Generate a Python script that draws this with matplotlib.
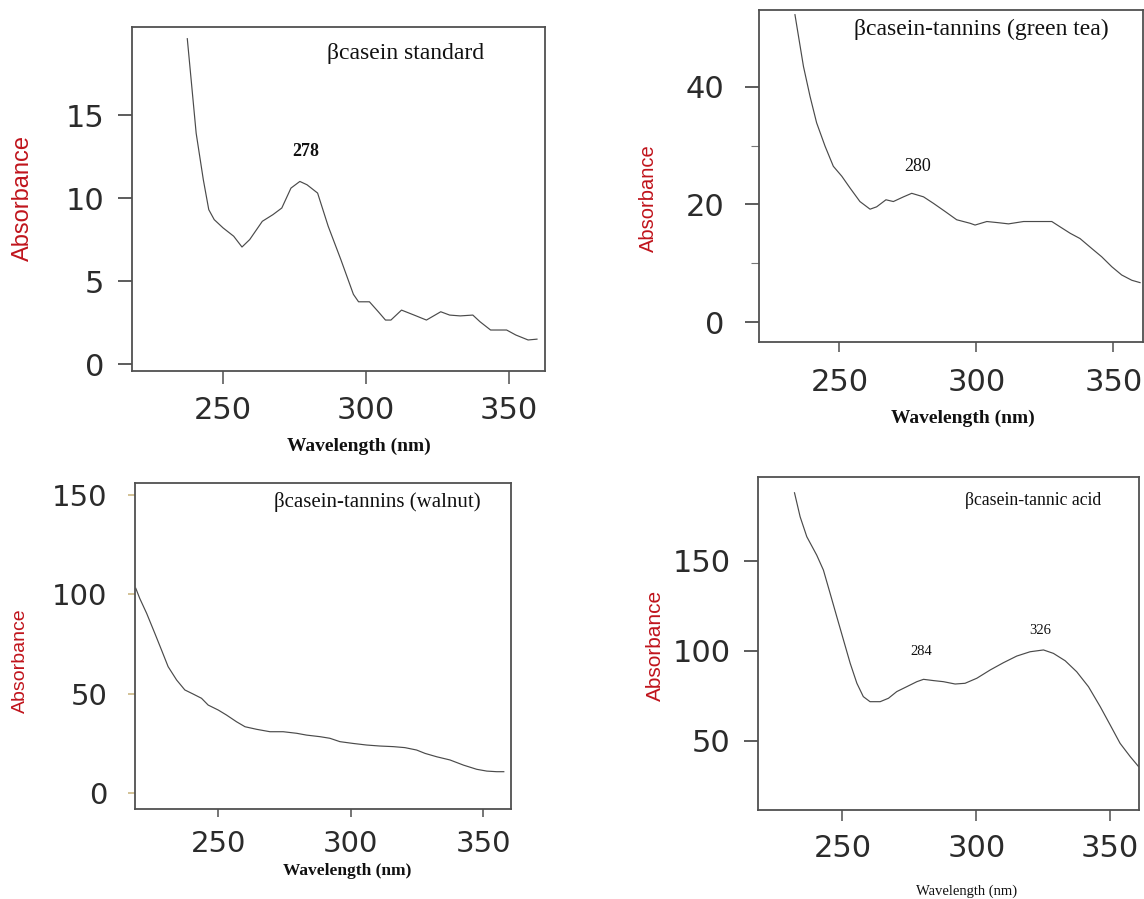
import matplotlib
matplotlib.use('Agg')
import matplotlib.pyplot as plt

wl_standard = [237.7, 240.8, 243.3, 245.2, 247.1, 250.2, 253.9, 256.8, 259.5,
               263.9, 267.6, 270.7, 273.9, 277.0, 279.5, 283.2, 286.9, 291.3,
               295.7, 297.5, 301.3, 304.4, 306.9, 308.8, 312.5, 316.9, 321.2,
               326.2, 329.3, 333.0, 337.4, 339.9, 343.6, 349.2, 352.4, 356.7,
               359.8]
abs_standard = [19.6, 13.9, 11.1, 9.3, 8.7, 8.2, 7.7, 7.05, 7.5,
                8.6, 9.0, 9.4, 10.6, 11.0, 10.8, 10.3, 8.3, 6.3,
                4.2, 3.75, 3.75, 3.15, 2.65, 2.65, 3.25, 2.95, 2.65,
                3.15, 2.95, 2.9, 2.95, 2.55, 2.05, 2.05, 1.75, 1.45,
                1.5]

wl_greentea = [233.8, 236.9, 239.3, 241.7, 244.8, 247.8, 250.9, 253.9, 257.5,
               261.2, 263.6, 267.0, 269.7, 273.4, 276.4, 280.7, 284.3, 288.6,
               292.8, 297.7, 299.5, 303.8, 308.0, 311.7, 317.2, 323.2, 327.5,
               330.5, 334.2, 337.8, 342.1, 345.7, 349.4, 353.0, 356.7, 359.7]
abs_greentea = [52.3, 43.5, 38.4, 33.9, 29.9, 26.5, 24.8, 22.8, 20.5,
                19.2, 19.6, 20.8, 20.5, 21.3, 21.9, 21.3, 20.2, 18.8,
                17.4, 16.8, 16.5, 17.1, 16.9, 16.7, 17.1, 17.1, 17.1,
                16.2, 15.1, 14.2, 12.5, 11.1, 9.4, 8.0, 7.1, 6.7]

wl_walnut = [218.9, 220.4, 223.0, 226.1, 228.6, 231.1, 234.3, 237.4, 240.6,
             243.7, 246.2, 250.0, 253.1, 256.9, 260.1, 264.5, 269.5, 274.5,
             279.6, 283.3, 288.4, 292.1, 295.9, 300.9, 306.0, 311.0, 316.0,
             320.4, 324.8, 328.0, 332.4, 337.4, 342.5, 347.5, 351.3, 355.0,
             357.7]
abs_walnut = [103.1, 98.0, 90.5, 80.4, 72.1, 63.7, 57.0, 52.0, 49.9,
              47.8, 44.4, 41.9, 39.4, 36.0, 33.5, 32.2, 31.0, 31.0,
              30.2, 29.3, 28.5, 27.7, 26.0, 25.1, 24.3, 23.8, 23.5,
              23.0, 21.8, 20.1, 18.4, 16.8, 14.2, 12.1, 11.2, 10.9,
              10.9]

wl_tannic = [232.1, 234.2, 236.7, 240.4, 242.9, 245.4, 247.9, 250.4, 252.9,
             255.4, 257.8, 260.3, 264.1, 267.2, 270.3, 274.0, 277.8, 280.3,
             284.0, 287.7, 292.1, 295.8, 300.2, 305.2, 310.1, 315.1, 320.1,
             325.1, 328.8, 333.2, 337.5, 341.9, 346.3, 350.0, 353.7, 357.5,
             360.6]
abs_tannic = [187.7, 174.4, 163.3, 153.1, 144.8, 131.9, 118.9, 106.0, 93.1,
              82.0, 74.6, 71.8, 71.8, 73.7, 77.4, 80.1, 82.9, 84.2,
              83.5, 82.9, 81.6, 82.0, 84.8, 89.4, 93.4, 97.1, 99.5,
              100.5, 98.6, 94.5, 88.4, 80.1, 69.0, 58.9, 48.7, 41.3,
              35.8]

# ── Estilo ───────────────────────────────────────────────────────────────────
RED = '#c0141c'
INK = '#2b2b2b'
LINE = '#4a4a4a'
plt.rcParams.update({'font.family': 'DejaVu Sans', 'axes.linewidth': 1.3,
                     'axes.edgecolor': '#505050'})

fig = plt.figure(figsize=(11.44, 8.99), dpi=100)

panels = [
    # posición, límites, ticks, datos y textos de cada espectro
    dict(pos=[0.1154, 0.5873, 0.3610, 0.3826], xlim=(218.4, 362.6),
         ylim=(-0.42, 20.3), yticks=[0, 5, 10, 15], minor=[],
         x=wl_standard, y=abs_standard, title='βcasein standard',
         title_xy=(0.662, 0.924), title_fs=17,
         peaks=[('278', 279.2, 12.8)], peak_fs=13, peak_bold=True,
         xlab_xy=(0.55, -0.22), xlab_fs=14, xlab_bold=True,
         ylab_xy=(-0.264, 0.504), ylab_fs=17,
         ytick_len=10, ytick_pad=10, xtick_len=9, xtick_pad=9, tick_fs=22,
         tick_color='#303030'),
    dict(pos=[0.6635, 0.6196, 0.3357, 0.3693], xlim=(220.7, 360.8),
         ylim=(-3.4, 53.1), yticks=[0, 20, 40], minor=[10, 30],
         x=wl_greentea, y=abs_greentea, title='βcasein-tannins (green tea)',
         title_xy=(0.578, 0.94), title_fs=17,
         peaks=[('280', 278.4, 26.4)], peak_fs=13, peak_bold=False,
         xlab_xy=(0.531, -0.229), xlab_fs=14, xlab_bold=True,
         ylab_xy=(-0.289, 0.434), ylab_fs=14.5,
         ytick_len=10, ytick_pad=15, xtick_len=7, xtick_pad=12, tick_fs=22,
         tick_color='#303030'),
    dict(pos=[0.1180, 0.0998, 0.3284, 0.3626], xlim=(218.6, 360.3),
         ylim=(-8.0, 155.9), yticks=[0, 50, 100, 150], minor=[],
         x=wl_walnut, y=abs_walnut, title='βcasein-tannins (walnut)',
         title_xy=(0.644, 0.943), title_fs=15,
         peaks=[], peak_fs=12, peak_bold=False,
         xlab_xy=(0.564, -0.19), xlab_fs=12.5, xlab_bold=True,
         ylab_xy=(-0.306, 0.455), ylab_fs=14,
         ytick_len=5, ytick_pad=15, xtick_len=6, xtick_pad=9, tick_fs=21,
         tick_color='#c8b27a'),
    dict(pos=[0.6629, 0.0990, 0.3328, 0.3701], xlim=(218.6, 360.8),
         ylim=(11.7, 196.3), yticks=[50, 100, 150], minor=[],
         x=wl_tannic, y=abs_tannic, title='βcasein-tannic acid',
         title_xy=(0.722, 0.930), title_fs=12.8,
         peaks=[('284', 279.4, 99.5), ('326', 323.9, 111.2)], peak_fs=10.5,
         peak_bold=False,
         xlab_xy=(0.547, -0.243), xlab_fs=10.5, xlab_bold=False,
         ylab_xy=(-0.269, 0.496), ylab_fs=15,
         ytick_len=10, ytick_pad=10, xtick_len=8, xtick_pad=9, tick_fs=22,
         tick_color='#303030'),
]

for p in panels:
    ax = fig.add_axes(p['pos'])
    ax.plot(p['x'], p['y'], color=LINE, linewidth=0.85)
    ax.set_xlim(*p['xlim'])
    ax.set_ylim(*p['ylim'])
    ax.set_xticks([250, 300, 350])
    ax.set_yticks(p['yticks'])
    if p['minor']:
        ax.set_yticks(p['minor'], minor=True)
        ax.tick_params(axis='y', which='minor', length=6, width=0.8,
                       color='#777777')
    ax.tick_params(axis='y', which='major', direction='out',
                   length=p['ytick_len'], width=1.1, color=p['tick_color'],
                   pad=p['ytick_pad'], labelsize=p['tick_fs'],
                   labelcolor=INK)
    ax.tick_params(axis='x', which='major', direction='out',
                   length=p['xtick_len'], width=1.1, color='#505050',
                   pad=p['xtick_pad'], labelsize=p['tick_fs'],
                   labelcolor=INK)

    ax.text(*p['title_xy'], p['title'], transform=ax.transAxes,
            ha='center', va='center', fontsize=p['title_fs'],
            family='Liberation Serif', color='#111111')
    for lab, px, py in p['peaks']:
        ax.text(px, py, lab, ha='center', va='center', fontsize=p['peak_fs'],
                family='Liberation Serif', color='#111111',
                fontweight='bold' if p['peak_bold'] else 'normal')
    ax.text(*p['xlab_xy'], 'Wavelength (nm)', transform=ax.transAxes,
            ha='center', va='center', fontsize=p['xlab_fs'],
            family='Liberation Serif', color='#111111',
            fontweight='bold' if p['xlab_bold'] else 'normal')
    ax.text(*p['ylab_xy'], 'Absorbance', transform=ax.transAxes,
            ha='center', va='center', rotation=90, fontsize=p['ylab_fs'],
            family='Liberation Sans', color=RED)

fig.savefig('out.png', dpi=100, facecolor='white')
